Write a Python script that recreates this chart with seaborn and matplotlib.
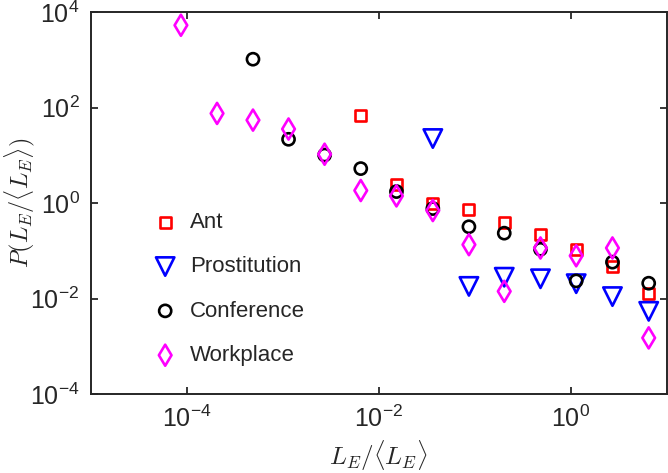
import matplotlib
matplotlib.use("Agg")
import matplotlib.pyplot as plt
import seaborn as sns

# bin centres (L_E / <L_E>) and P values
ant_x = [6.5e-3, 1.53e-2, 3.66e-2, 0.087, 0.203, 0.484, 1.14, 2.72, 6.49]
ant_y = [70, 2.5, 0.97, 0.73, 0.39, 0.22, 0.105, 0.048, 0.013]

pros_x = [3.66e-2, 0.087, 0.203, 0.484, 1.14, 2.72, 6.49]
pros_y = [22.6, 0.018, 0.028, 0.026, 0.0205, 0.011, 0.0054]

conf_x = [4.9e-4, 1.15e-3, 2.73e-3, 6.5e-3, 1.53e-2, 3.66e-2, 0.087, 0.203,
          0.484, 1.14, 2.72, 6.49]
conf_y = [1040, 21.8, 10.2, 5.3, 1.75, 0.77, 0.32, 0.235, 0.108, 0.0235,
          0.058, 0.021]

work_x = [8.7e-5, 2.07e-4, 4.9e-4, 1.15e-3, 2.73e-3, 6.5e-3, 1.53e-2, 3.66e-2,
          0.087, 0.203, 0.484, 1.14, 2.72, 6.49]
work_y = [5350, 76, 55, 35.8, 10.6, 1.84, 1.42, 0.70, 0.135, 0.0142, 0.115,
          0.079, 0.115, 0.0015]

sns.set_style("ticks")
plt.rcParams['font.family'] = ['Liberation Sans', 'DejaVu Sans']
plt.rcParams['mathtext.fontset'] = 'custom'
plt.rcParams['mathtext.rm'] = 'Liberation Sans'
plt.rcParams['mathtext.it'] = 'Liberation Sans:italic'
plt.rcParams['axes.unicode_minus'] = False

fig = plt.figure(figsize=(6.68, 4.73), dpi=100)
ax = fig.add_axes([0.1358, 0.167, 0.8623, 0.807])

series = [
    (ant_x, ant_y, 'Ant', 's', 64, '#ff0000'),
    (pros_x, pros_y, 'Prostitution', 'v', 175, '#0000ff'),
    (conf_x, conf_y, 'Conference', 'o', 76, '#000000'),
    (work_x, work_y, 'Workplace', 'd', 115, '#ff00ff'),
]
for xs, ys, name, mk, size, col in series:
    sns.scatterplot(x=xs, y=ys, marker=mk, s=size, facecolor='none',
                    edgecolor=col, linewidth=1.9, label=name, ax=ax)

ax.set_xscale('log')
ax.set_yscale('log')
ax.set_xlim(1e-5, 1e1)
ax.set_ylim(1e-4, 1e4)
ax.set_xticks([1e-4, 1e-2, 1e0])
ax.set_yticks([1e-4, 1e-2, 1e0, 1e2, 1e4])
ax.minorticks_off()
ax.tick_params(which='both', direction='in', top=True, right=True,
               length=5, width=1.3, labelsize=18, color='#262626', pad=8)
for sp in ax.spines.values():
    sp.set_linewidth(1.4)
    sp.set_color('#262626')

ax.set_xlabel(r'$L_E/\langle L_E\rangle$', fontsize=18, math_fontfamily='cm',
              color='#262626', labelpad=5)
ax.set_ylabel(r'$P(L_E/\langle L_E\rangle)$', fontsize=17.5, math_fontfamily='cm',
              color='#262626', labelpad=-5)

ax.legend(loc='center left', bbox_to_anchor=(0.11, 0.275), frameon=False,
          fontsize=16, borderpad=0, borderaxespad=0, handlelength=1.0,
          handletextpad=0.6, labelspacing=1.05, scatterpoints=1)

fig.savefig('out.png', dpi=100)
